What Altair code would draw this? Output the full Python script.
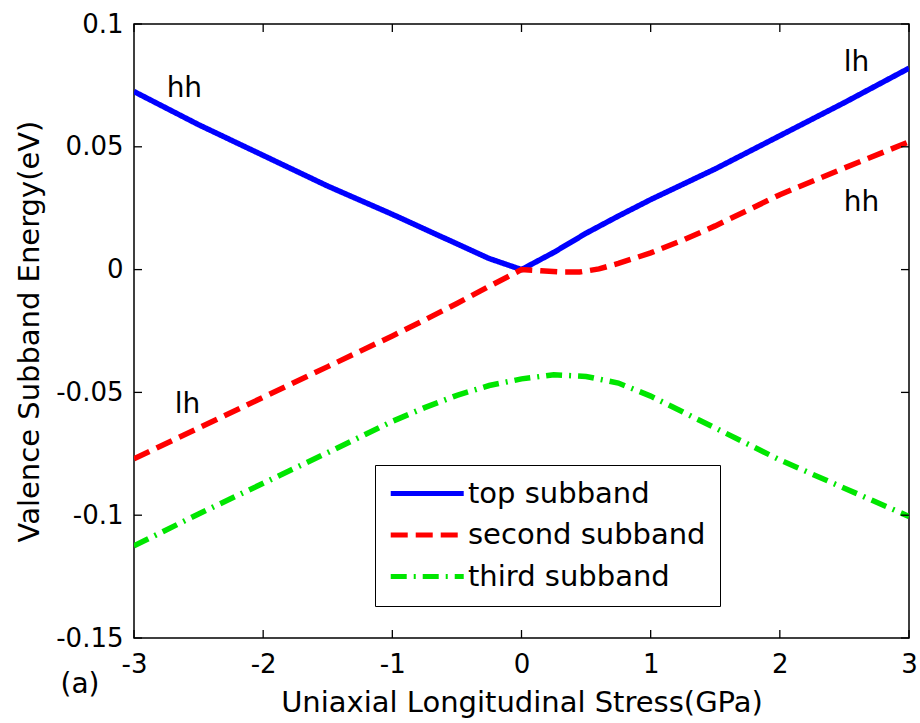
import altair as alt
import pandas as pd

# Stress (GPa) sample points and subband energies (eV)
stress_top = [-3, -2.5, -2, -1.5, -1, -0.75, -0.5, -0.25, 0, 0.25, 0.5, 0.75, 1, 1.5, 2, 2.5, 3]
energy_top = [0.0725, 0.059, 0.0465, 0.034, 0.0225, 0.0165, 0.0105, 0.0045, 0.0,
              0.007, 0.0148, 0.0218, 0.0285, 0.041, 0.0545, 0.068, 0.082]

stress_second = [-3, -2.5, -2, -1.5, -1, -0.75, -0.5, -0.25, 0, 0.15, 0.3, 0.45, 0.6, 0.75,
                 1, 1.25, 1.5, 2, 2.5, 3]
energy_second = [-0.077, -0.0645, -0.052, -0.0395, -0.027, -0.0205, -0.0138, -0.0068, 0.0,
                 -0.0005, -0.001, -0.001, 0.0003, 0.0025, 0.0068, 0.012, 0.0178, 0.0305,
                 0.0414, 0.052]

stress_third = [-3, -2.5, -2, -1.5, -1, -0.75, -0.5, -0.25, 0, 0.25, 0.5, 0.75, 1, 1.25,
                1.5, 2, 2.5, 3]
energy_third = [-0.1125, -0.0995, -0.087, -0.0745, -0.0618, -0.0562, -0.0512, -0.0472,
                -0.0445, -0.0428, -0.0435, -0.0462, -0.0515, -0.058, -0.0645, -0.0775,
                -0.089, -0.1005]

series_names = ["top subband", "second subband", "third subband"]
series_colors = ["#0000ff", "#ff0000", "#00e600"]
series_dashes = [[1, 0], [17, 8], [16, 7, 2, 7]]

x_ticks = [-3, -2, -1, 0, 1, 2, 3]
y_ticks = [0.1, 0.05, 0, -0.05, -0.1, -0.15]

# Band-character annotations
note_x = [-2.61, 2.593, 2.632, -2.586]
note_y = [0.0737, 0.0841, 0.0273, -0.0551]
note_text = ["hh", "lh", "hh", "lh"]

FONT = "DejaVu Sans"
W, H = 775, 614
TICK = 8

rows = []
for name, xs, ys in zip(series_names,
                        [stress_top, stress_second, stress_third],
                        [energy_top, energy_second, energy_third]):
    for i, (a, b) in enumerate(zip(xs, ys)):
        rows.append({"stress": a, "energy": b, "series": name, "order": i})
curves = pd.DataFrame(rows)

xscale = alt.Scale(domain=[-3, 3], nice=False, zero=False)
yscale = alt.Scale(domain=[-0.15, 0.1], nice=False, zero=False)

x_axis = alt.Axis(values=x_ticks, labelExpr="toString(datum.value)",
                  labelFont=FONT, labelFontSize=26, labelColor="black",
                  labelPadding=13, labelFlush=False,
                  title="Uniaxial Longitudinal Stress(GPa)",
                  titleFont=FONT, titleFontSize=29, titleFontWeight="normal",
                  titleColor="black", titlePadding=11,
                  domain=False, ticks=False, grid=False)
y_axis = alt.Axis(values=y_ticks, labelExpr="toString(datum.value)",
                  labelFont=FONT, labelFontSize=26, labelColor="black",
                  labelPadding=11, labelFlush=False,
                  title="Valence Subband Energy(eV)",
                  titleFont=FONT, titleFontSize=29, titleFontWeight="normal",
                  titleColor="black", titlePadding=11,
                  domain=False, ticks=False, grid=False)

# Legend key: a short line drawn to the right of the symbol anchor
legend = alt.Legend(
    title=None, orient="none", legendX=241, legendY=441,
    symbolType="M-1.4,0H6.6", symbolSize=333, symbolStrokeWidth=5,
    labelFont=FONT, labelFontSize=29, labelColor="black", labelOffset=50,
    labelLimit=400, padding=14, rowPadding=11.5,
    strokeColor="black", fillColor="white",
)

lines = alt.Chart(curves).mark_line(strokeWidth=5.5, clip=True).encode(
    x=alt.X("stress:Q", scale=xscale, axis=x_axis),
    y=alt.Y("energy:Q", scale=yscale, axis=y_axis),
    color=alt.Color("series:N", scale=alt.Scale(domain=series_names, range=series_colors),
                    legend=legend),
    strokeDash=alt.StrokeDash("series:N",
                              scale=alt.Scale(domain=series_names, range=series_dashes),
                              legend=legend),
    order="order:Q",
    detail="series:N",
)

notes = alt.Chart(pd.DataFrame({"x": note_x, "y": note_y, "t": note_text})).mark_text(
    font=FONT, fontSize=28, color="black", align="center", baseline="middle"
).encode(x=alt.X("x:Q", scale=xscale, axis=x_axis),
         y=alt.Y("y:Q", scale=yscale, axis=y_axis), text="t:N")

# Inward ticks on all four sides of the box
xt = pd.DataFrame({"v": x_ticks})
yt = pd.DataFrame({"v": y_ticks})
tick_style = dict(color="black", strokeWidth=1.3)
xt_top = alt.Chart(xt).mark_rule(**tick_style).encode(
    x=alt.X("v:Q", scale=xscale, axis=x_axis), y=alt.value(0), y2=alt.value(TICK))
xt_bot = alt.Chart(xt).mark_rule(**tick_style).encode(
    x=alt.X("v:Q", scale=xscale, axis=x_axis), y=alt.value(H), y2=alt.value(H - TICK))
yt_left = alt.Chart(yt).mark_rule(**tick_style).encode(
    y=alt.Y("v:Q", scale=yscale, axis=y_axis), x=alt.value(0), x2=alt.value(TICK))
yt_right = alt.Chart(yt).mark_rule(**tick_style).encode(
    y=alt.Y("v:Q", scale=yscale, axis=y_axis), x=alt.value(W), x2=alt.value(W - TICK))

panel_tag = alt.Chart(pd.DataFrame({"t": ["(a)"]})).mark_text(
    font=FONT, fontSize=28, color="black", align="center", baseline="middle"
).encode(text="t:N", x=alt.value(-54), y=alt.value(661))

chart = alt.layer(lines, notes, xt_top, xt_bot, yt_left, yt_right, panel_tag).properties(
    width=W, height=H,
    padding={"left": 134, "top": 24, "right": 11, "bottom": 85},
    autosize=alt.AutoSizeParams(type="none"),
    background="white",
).configure_view(stroke="black", strokeWidth=1.5)

chart.save("out.html", embed_options={"renderer": "svg", "actions": False})
